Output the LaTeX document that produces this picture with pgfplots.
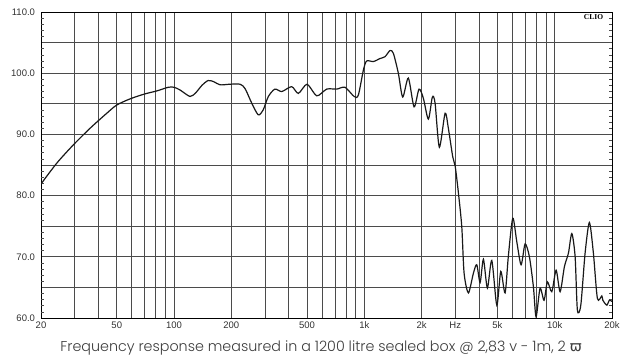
\documentclass[border=0pt]{standalone}
\usepackage{fontspec}
\setmainfont{Poppins}[UprightFont=* Light]
\newfontfamily\arial{Liberation Sans}
\newfontfamily\dejavu{DejaVu Sans}
\newfontfamily\clio{Liberation Serif}
\usepackage{pgfplots}
\pgfplotsset{compat=1.18}
\definecolor{gridc}{RGB}{75,75,75}
\definecolor{labc}{RGB}{50,50,50}
\definecolor{capc}{RGB}{60,60,60}
\begin{document}
\begin{tikzpicture}
\path[use as bounding box] (-41pt,-40pt) rectangle (603pt,318pt);
\begin{axis}[
  width=571pt, height=306pt, scale only axis,
  xmode=log, xmin=20, xmax=20000, ymin=60, ymax=110,
  xtick={20,50,100,200,500,1000,2000,3000,5000,10000,20000},
  xticklabels={20,50,100,200,500,1k,2k,Hz,5k,10k,20k},
  minor xtick={30,40,60,70,80,90,300,400,600,700,800,900,4000,6000,7000,8000,9000},
  ytick={60,70,80,90,100,110},
  yticklabels={60.0,70.0,80.0,90.0,100.0,110.0},
  minor ytick={65,75,85,95,105},
  extra y ticks={61,62,63,64,66,67,68,69,71,72,73,74,76,77,78,79,81,82,83,84,86,87,88,89,91,92,93,94,96,97,98,99,101,102,103,104,106,107,108,109},
  extra y tick labels={},
  extra y tick style={grid=none, major tick length=3.5pt, tick align=inside, tick style={gridc, line width=0.6pt}},
  grid=both,
  major grid style={gridc, line width=0.7pt},
  minor grid style={gridc, line width=0.7pt},
  major tick length=0pt, minor tick length=0pt,
  axis line style={black, line width=0.9pt},
  tick label style={font=\arial\fontsize{9.5}{10}\selectfont, text=labc},
  yticklabel style={xshift=-2.5pt},
  xticklabel style={yshift=-0.5pt},
]
\addplot[black!90, line width=1.2pt, smooth, tension=0.45] table {
f db
20 81.9
24.2 85.3
29.6 88.3
36.2 91.0
44.3 93.45
50 94.8
58.7 95.8
70 96.6
81.1 97.1
93.3 97.7
100 97.7
107.6 97.25
121.3 96.2
130 96.8
140 98.0
151 98.8
162 98.6
174.5 98.1
197 98.2
222 98.2
236 97.5
256 95.1
277 93.2
294 94.0
313 96.2
339 97.4
368 97.0
415 97.8
450 96.7
500 98.2
562 96.3
634 97.4
716 97.4
791 97.7
883 96.2
929 96.4
988 100.5
1028 102.0
1115 101.9
1209 102.4
1284 102.7
1364 103.7
1420 103.25
1508 100
1590 96.1
1702 99.2
1824 94.5
1937 97.4
2041 95.9
2168 92.5
2276 96.1
2352 95.1
2477 87.9
2655 93.45
2762 91.0
2912 86.35
3000 84.8
3120 80.4
3249 74.9
3342 67.3
3520 64.1
3738 67.3
3895 68.7
4055 65.8
4221 69.6
4428 64.9
4670 69.4
4963 62.1
5207 67.6
5485 64.1
5710 70.2
6021 76.3
6318 72.5
6658 68.7
6988 72.1
7362 70
7728 65.1
7981 60.2
8376 64.85
8790 62.9
9152 65.9
9652 64.3
10170 67.8
10674 64.3
11246 68.4
11804 70.6
12296 73.8
12800 70.0
13154 61.3
13710 62.1
14442 70.6
15212 75.6
15966 70.6
16760 63.2
17680 63.6
17900 62.9
18780 62.1
19366 62.9
20000 62.7
};
\node[anchor=east, inner sep=3pt, xshift=-2.5pt, font=\arial\fontsize{9.5}{10}\selectfont, text=labc] at (rel axis cs:0,0.9) {dBSPL};
\node[anchor=west, inner sep=3pt, xshift=1.5pt, font=\arial\fontsize{9.5}{10}\selectfont, text=labc] at (rel axis cs:1,1) {180.0};
\node[anchor=west, inner sep=3pt, xshift=1.5pt, font=\arial\fontsize{9.5}{10}\selectfont, text=labc] at (rel axis cs:1,0.9) {Deg};
\node[anchor=west, inner sep=3pt, xshift=1.5pt, font=\arial\fontsize{9.5}{10}\selectfont, text=labc] at (rel axis cs:1,0.8) {108.0};
\node[anchor=west, inner sep=3pt, xshift=1.5pt, font=\arial\fontsize{9.5}{10}\selectfont, text=labc] at (rel axis cs:1,0.6) {36.0};
\node[anchor=west, inner sep=3pt, xshift=1.5pt, font=\arial\fontsize{9.5}{10}\selectfont, text=labc] at (rel axis cs:1,0.4) {-36.0};
\node[anchor=west, inner sep=3pt, xshift=1.5pt, font=\arial\fontsize{9.5}{10}\selectfont, text=labc] at (rel axis cs:1,0.2) {-108.0};
\node[anchor=west, inner sep=3pt, xshift=1.5pt, font=\arial\fontsize{9.5}{10}\selectfont, text=labc] at (rel axis cs:1,0) {-180.0};
\end{axis}
\node[font=\clio\bfseries\fontsize{7.5}{8}\selectfont, inner sep=0pt] at (552.5pt,301pt) {CLIO};
\node[anchor=base, inner sep=0pt, font=\fontsize{14.3}{16}\selectfont, text=capc] at (280pt,-33.7pt) {Frequency response measured in a 1200 litre sealed box @ 2,83 v - 1m, 2 {\dejavu ϖ}};
\end{tikzpicture}
\end{document}
